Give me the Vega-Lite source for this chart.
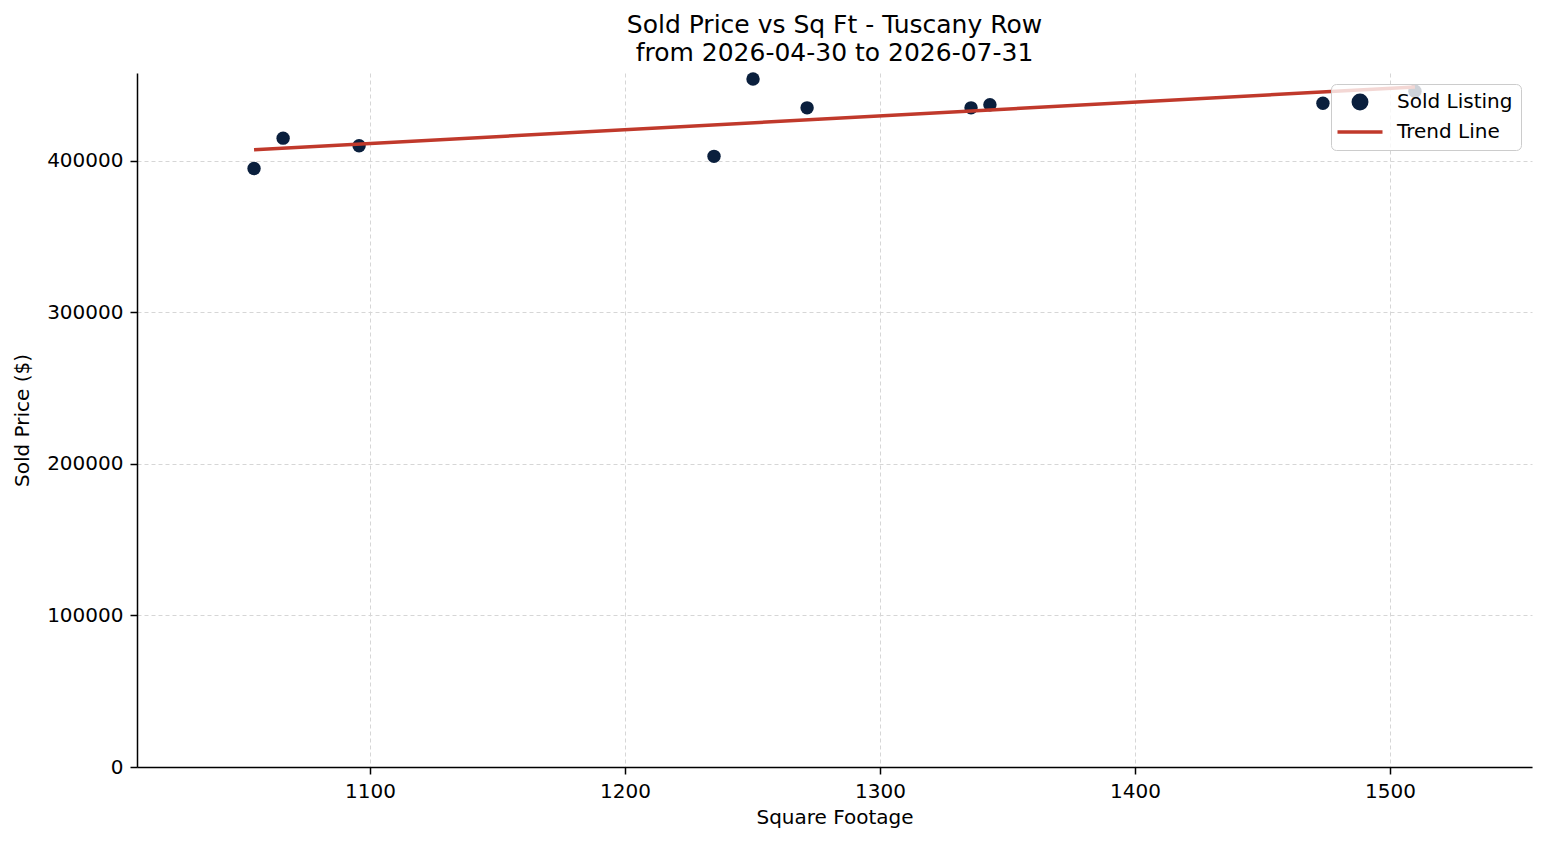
{
  "$schema": "https://vega.github.io/schema/vega-lite/v6.json",
  "autosize": "none",
  "width": 1395,
  "height": 694,
  "padding": {"left": 137, "top": 73, "right": 15, "bottom": 78},
  "background": "white",
  "title": {
    "text": ["Sold Price vs Sq Ft - Tuscany Row", "from 2026-04-30 to 2026-07-31"],
    "font": "DejaVu Sans",
    "fontSize": 25,
    "fontWeight": "normal",
    "color": "black",
    "lineHeight": 28,
    "offset": 6
  },
  "config": {
    "view": {"stroke": null},
    "font": "DejaVu Sans",
    "axis": {
      "domainColor": "black",
      "domainWidth": 1.5,
      "tickColor": "black",
      "tickWidth": 1.5,
      "tickSize": 7,
      "labelPadding": 7,
      "labelFont": "DejaVu Sans",
      "labelFontSize": 20,
      "labelColor": "black",
      "titleFont": "DejaVu Sans",
      "titleFontSize": 20,
      "titleFontWeight": "normal",
      "titleColor": "black",
      "gridColor": "#d6d6d6",
      "gridDash": [4, 3],
      "gridWidth": 1
    },
    "legend": {
      "orient": "top-right",
      "offset": 11,
      "fillColor": "rgba(255,255,255,0.8)",
      "strokeColor": "#cccccc",
      "cornerRadius": 5,
      "padding": 8,
      "labelFont": "DejaVu Sans",
      "labelFontSize": 20,
      "labelColor": "black",
      "labelOffset": 27,
      "symbolOffset": 11,
      "symbolSize": 2025,
      "rowPadding": 6,
      "title": null
    }
  },
  "datasets": {
    "sold": [
      {"sqft": 1054.5, "price": 395000, "series": "Sold Listing"},
      {"sqft": 1065.9, "price": 415000, "series": "Sold Listing"},
      {"sqft": 1095.7, "price": 410000, "series": "Sold Listing"},
      {"sqft": 1234.9, "price": 403000, "series": "Sold Listing"},
      {"sqft": 1250.2, "price": 454000, "series": "Sold Listing"},
      {"sqft": 1271.4, "price": 435000, "series": "Sold Listing"},
      {"sqft": 1335.7, "price": 435000, "series": "Sold Listing"},
      {"sqft": 1343.1, "price": 437000, "series": "Sold Listing"},
      {"sqft": 1473.7, "price": 438000, "series": "Sold Listing"},
      {"sqft": 1509.8, "price": 446000, "series": "Sold Listing"}
    ],
    "trend": [
      {"sqft": 1054.5, "price": 407300, "series": "Trend Line"},
      {"sqft": 1509.8, "price": 448800, "series": "Trend Line"}
    ]
  },
  "encoding": {
    "x": {
      "field": "sqft",
      "type": "quantitative",
      "title": "Square Footage",
      "scale": {"domain": [1008.6, 1555.7], "nice": false, "zero": false},
      "axis": {"values": [1100, 1200, 1300, 1400, 1500], "format": "d", "titlePadding": 6}
    },
    "y": {
      "field": "price",
      "type": "quantitative",
      "title": "Sold Price ($)",
      "scale": {"domain": [0, 458000], "nice": false},
      "axis": {"values": [0, 100000, 200000, 300000, 400000], "format": "d", "titlePadding": 14}
    },
    "color": {
      "field": "series",
      "type": "nominal",
      "scale": {"domain": ["Sold Listing", "Trend Line"], "range": ["#0a1f3d", "#c0392b"]},
      "legend": {
        "symbolType": "circle",
        "encode": {
          "symbols": {
            "update": {
              "shape": {"signal": "datum.value === 'Trend Line' ? 'stroke' : 'circle'"},
              "size": {"signal": "datum.value === 'Trend Line' ? 2025 : 180"},
              "fill": {"signal": "datum.value === 'Trend Line' ? 'transparent' : '#0a1f3d'"},
              "stroke": {"signal": "datum.value === 'Trend Line' ? '#c0392b' : 'transparent'"},
              "strokeWidth": {"value": 3.5},
              "opacity": {"value": 1}
            }
          }
        }
      }
    }
  },
  "layer": [
    {
      "data": {"name": "sold"},
      "mark": {"type": "point", "filled": true, "size": 180, "opacity": 1}
    },
    {
      "data": {"name": "trend"},
      "mark": {"type": "line", "strokeWidth": 3.5},
      "encoding": {}
    }
  ]
}
